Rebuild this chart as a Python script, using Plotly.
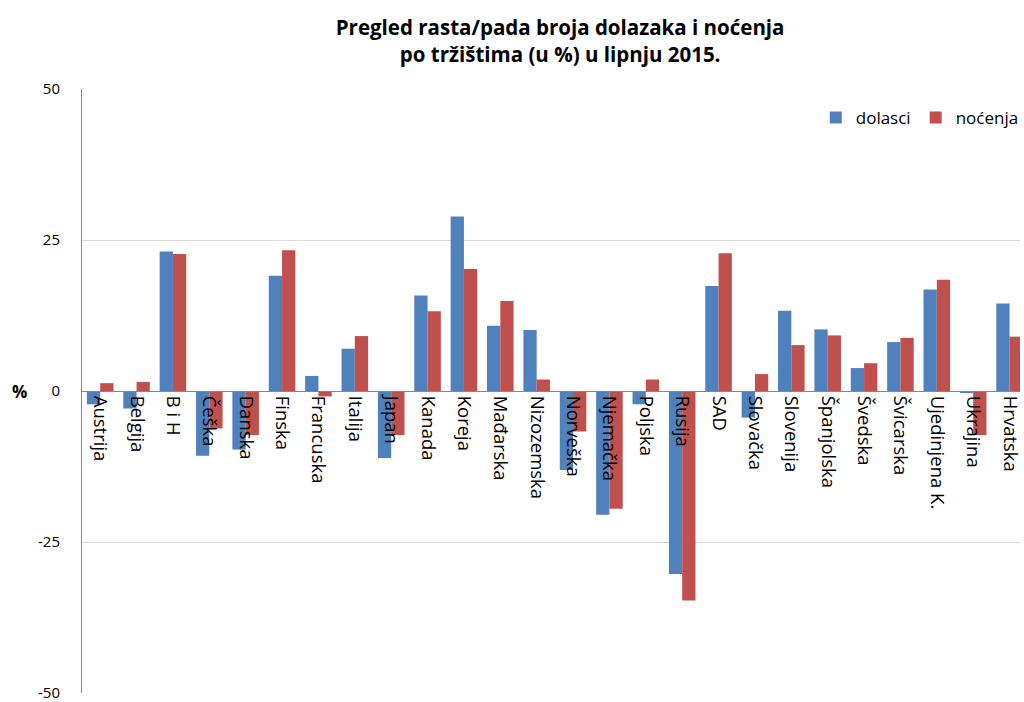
import plotly.graph_objects as go

categories = ["Austrija", "Belgija", "B i H", "Češka", "Danska", "Finska", "Francuska",
              "Italija", "Japan", "Kanada", "Koreja", "Mađarska", "Nizozemska", "Norveška",
              "Njemačka", "Poljska", "Rusija", "SAD", "Slovačka", "Slovenija", "Španjolska",
              "Švedska", "Švicarska", "Ujedinjena K.", "Ukrajina", "Hrvatska"]
dolasci = [-2.2, -2.9, 23.1, -10.7, -9.7, 19.1, 2.5,
           7.0, -11.1, 15.8, 28.9, 10.8, 10.1, -13.1,
           -20.5, -2.2, -30.3, 17.4, -4.4, 13.3, 10.2,
           3.8, 8.1, 16.8, -0.3, 14.5]
nocenja = [1.3, 1.5, 22.7, -6.2, -7.3, 23.3, -0.9,
           9.1, -7.3, 13.2, 20.2, 14.9, 1.9, -6.7,
           -19.5, 1.9, -34.7, 22.8, 2.8, 7.6, 9.2,
           4.6, 8.8, 18.4, -7.3, 9.0]
y_ticks = [50, 25, 0, -25, -50]
title_text = "Pregled rasta/pada broja dolazaka i noćenja<br>po tržištima (u %) u lipnju 2015."

FONT = "Open Sans, Lato, DejaVu Sans, sans-serif"

fig = go.Figure()
fig.add_trace(go.Bar(x=categories, y=dolasci, name="dolasci",
                     marker=dict(color="#4F81BD", line=dict(width=0))))
fig.add_trace(go.Bar(x=categories, y=nocenja, name="noćenja",
                     marker=dict(color="#C0504D", line=dict(width=0))))

fig.update_layout(
    width=1024, height=702,
    margin=dict(l=82, r=0, t=89, b=9),
    paper_bgcolor="white", plot_bgcolor="white",
    barmode="group", bargap=0.27, bargroupgap=0,
    font=dict(family=FONT, color="#000000"),
    title=dict(text=title_text, x=0.547, xanchor="center", y=0.95, yanchor="top",
               font=dict(size=20.5, family=FONT, color="#000000", weight="bold")),
    legend=dict(orientation="h", x=1.004, xanchor="right", y=0.952, yanchor="middle",
                font=dict(size=17, family=FONT), bgcolor="rgba(0,0,0,0)",
                itemwidth=30, traceorder="normal"),
    showlegend=True,
)
fig.update_xaxes(
    type="category", range=[-0.5, 25.287],
    anchor="free", position=0.5,
    showline=True, linecolor="#868686", linewidth=1,
    showgrid=False, ticks="", tickangle=90,
    tickfont=dict(size=18.5, family=FONT, color="#000000"),
)
fig.update_yaxes(
    range=[-50, 50], tickvals=y_ticks, ticktext=[str(v) for v in y_ticks],
    showgrid=True, gridcolor="#D9D9D9", gridwidth=1,
    zeroline=True, zerolinecolor="#868686", zerolinewidth=1,
    showline=True, linecolor="#868686", linewidth=1,
    ticks="", ticklabelstandoff=18, ticklabeloverflow="allow",
    tickfont=dict(size=15, family=FONT, color="#000000"),
)
fig.add_annotation(text="%", xref="paper", yref="y", x=-0.057, y=0,
                   xanchor="right", yanchor="middle", showarrow=False,
                   font=dict(size=17, family=FONT, color="#000000", weight="bold"))

fig.write_html("out.html", config={"displayModeBar": False},
               post_script="document.body.style.margin='0';document.body.style.overflow='hidden';")
